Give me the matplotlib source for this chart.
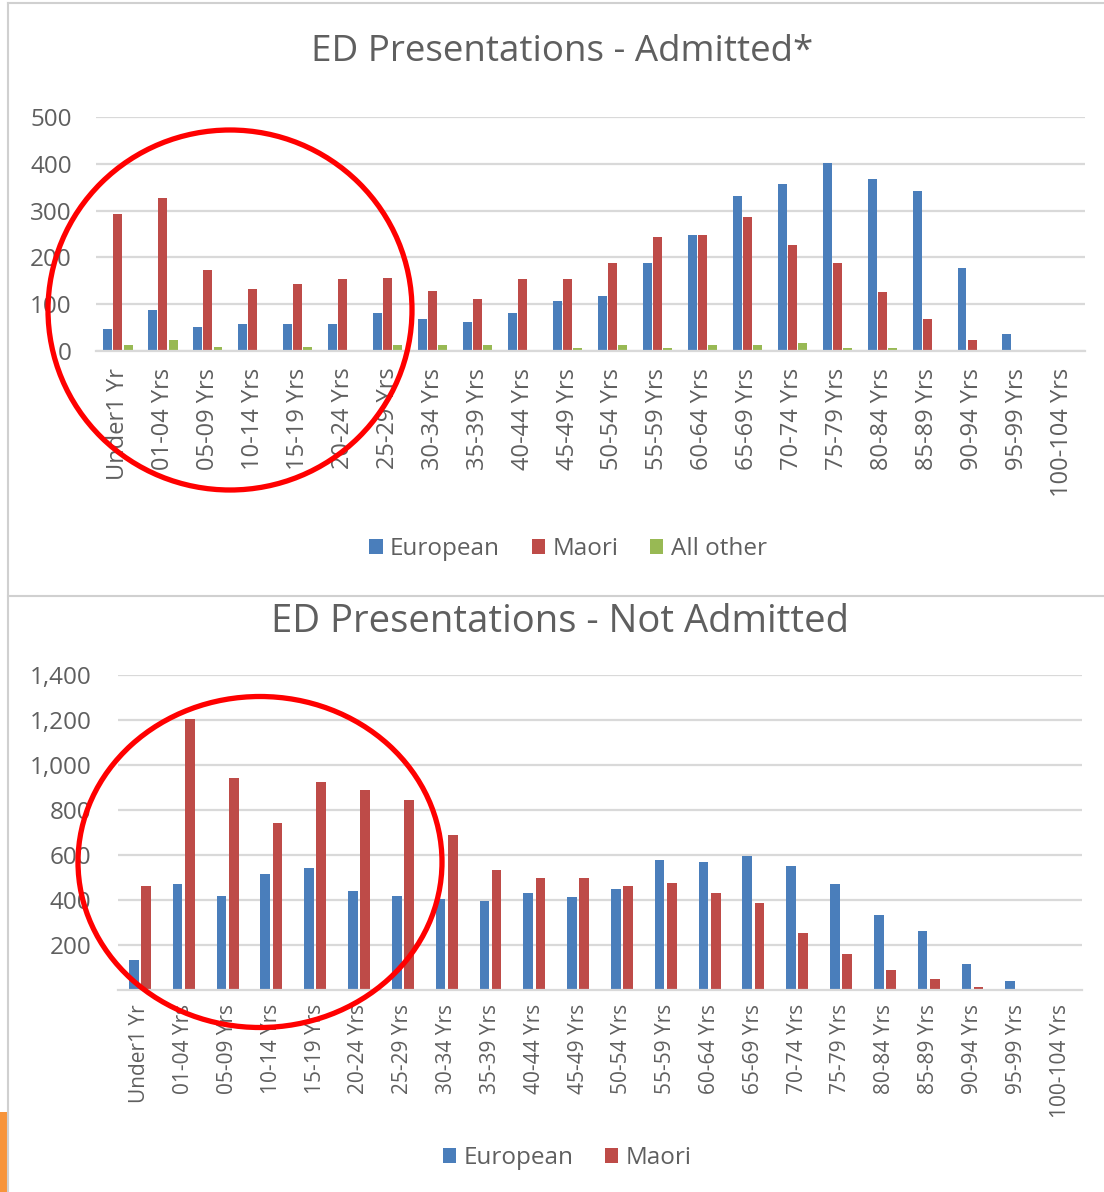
import matplotlib
matplotlib.use('Agg')
import matplotlib.pyplot as plt
from matplotlib.patches import Ellipse, Rectangle
from matplotlib.ticker import FuncFormatter
import numpy as np

plt.rcParams['font.family'] = ['Open Sans', 'DejaVu Sans']

W, H = 1104, 1192

age_groups = ['Under1 Yr', '01-04 Yrs', '05-09 Yrs', '10-14 Yrs', '15-19 Yrs',
              '20-24 Yrs', '25-29 Yrs', '30-34 Yrs', '35-39 Yrs', '40-44 Yrs',
              '45-49 Yrs', '50-54 Yrs', '55-59 Yrs', '60-64 Yrs', '65-69 Yrs',
              '70-74 Yrs', '75-79 Yrs', '80-84 Yrs', '85-89 Yrs', '90-94 Yrs',
              '95-99 Yrs', '100-104 Yrs']

# admitted
adm_european = [48, 88, 52, 57, 57, 57, 82, 68, 63, 82, 107, 117, 187, 248, 332,
                357, 402, 367, 342, 177, 37, 0]
adm_maori = [293, 327, 173, 132, 143, 153, 157, 128, 112, 153, 153, 187, 243, 248,
             287, 227, 187, 127, 68, 23, 0, 0]
adm_other = [12, 23, 8, 0, 8, 0, 12, 12, 12, 0, 7, 12, 7, 12, 12, 17, 7, 7, 0, 0, 0, 0]

# not admitted
na_european = [132, 472, 419, 516, 543, 440, 419, 404, 396, 429, 412, 447, 576, 568,
               594, 550, 472, 334, 263, 116, 38, 0]
na_maori = [463, 1205, 943, 743, 925, 891, 846, 690, 534, 499, 499, 463, 474, 429,
            385, 254, 160, 90, 47, 13, 0, 0]

blue = '#4a7ebb'
red = '#be4b48'
green = '#98b954'
grey_txt = '#5f5f5f'
grid_c = '#d9d9d9'


def fx(px):
    return px / W


def fy(py):
    return 1 - py / H


def style_axes(ax, yticks, fmt, pad_y, pad_x, xsize):
    ax.set_xlim(-0.5, len(age_groups) - 0.5)
    ax.set_xticks(np.arange(len(age_groups)))
    ax.set_xticklabels(age_groups, rotation=90, fontsize=xsize, color=grey_txt)
    ax.set_yticks(yticks)
    ax.yaxis.set_major_formatter(FuncFormatter(fmt))
    ax.tick_params(axis='y', length=0, pad=pad_y, labelsize=17.5, labelcolor=grey_txt)
    ax.tick_params(axis='x', length=0, pad=pad_x)
    ax.grid(axis='y', color=grid_c, linewidth=1.6)
    ax.set_axisbelow(True)
    for s in ['top', 'right', 'left']:
        ax.spines[s].set_visible(False)
    ax.spines['bottom'].set_color(grid_c)
    ax.spines['bottom'].set_linewidth(1.6)


fig = plt.figure(figsize=(W / 100, H / 100), dpi=100)

# panel frames
fig.add_artist(plt.Line2D([fx(8), fx(8)], [fy(3), 0], color='#d0d0d0', lw=1.5))
fig.add_artist(plt.Line2D([fx(8), 1], [fy(3), fy(3)], color='#d0d0d0', lw=1.5))
fig.add_artist(plt.Line2D([fx(8), 1], [fy(596), fy(596)], color='#d0d0d0', lw=1.5))
fig.add_artist(Rectangle((0, 0), fx(7), fy(1112), transform=fig.transFigure,
                         color='#f7943a', lw=0))

# top chart
x = np.arange(len(age_groups))
ax1 = fig.add_axes([fx(95.5), fy(351), fx(989), (351 - 117) / H])
w = 0.2
ax1.bar(x - 0.225, adm_european, w, color=blue, label='European')
ax1.bar(x, adm_maori, w, color=red, label='Maori')
ax1.bar(x + 0.225, adm_other, w, color=green, label='All other')
ax1.set_ylim(0, 500)
style_axes(ax1, range(0, 501, 100), lambda v, p: f'{int(v)}', 17, 12, 17)
fig.text(fx(562), fy(52), 'ED Presentations - Admitted*', ha='center', va='center',
         fontsize=26.5, color=grey_txt)
ax1.legend(loc='center', bbox_to_anchor=(fx(568), fy(549)), bbox_transform=fig.transFigure,
           ncol=3, frameon=False, fontsize=17.5, labelcolor=grey_txt, handlelength=0.55,
           handleheight=0.55, handletextpad=0.3, columnspacing=1.3)

# bottom chart
ax2 = fig.add_axes([fx(118), fy(990), fx(964), (990 - 675) / H])
w2 = 0.22
ax2.bar(x - 0.14, na_european, w2, color=blue, label='European')
ax2.bar(x + 0.14, na_maori, w2, color=red, label='Maori')
ax2.set_ylim(0, 1400)
style_axes(ax2, range(200, 1401, 200), lambda v, p: f'{int(v):,}', 19, 10, 15)
fig.text(fx(560), fy(622), 'ED Presentations - Not Admitted', ha='center', va='center',
         fontsize=27.5, color=grey_txt)
ax2.legend(loc='center', bbox_to_anchor=(fx(567), fy(1158)), bbox_transform=fig.transFigure,
           ncol=2, frameon=False, fontsize=17.5, labelcolor=grey_txt, handlelength=0.55,
           handleheight=0.55, handletextpad=0.3, columnspacing=1.3)

# red circle annotations
fig.add_artist(Ellipse((fx(230), fy(310)), fx(364), 360 / H, transform=fig.transFigure,
                       fill=False, edgecolor='#ff0000', lw=3.8))
fig.add_artist(Ellipse((fx(260), fy(862)), fx(364), 331 / H, transform=fig.transFigure,
                       fill=False, edgecolor='#ff0000', lw=3.8))

fig.savefig('out.png', dpi=100, facecolor='white')
